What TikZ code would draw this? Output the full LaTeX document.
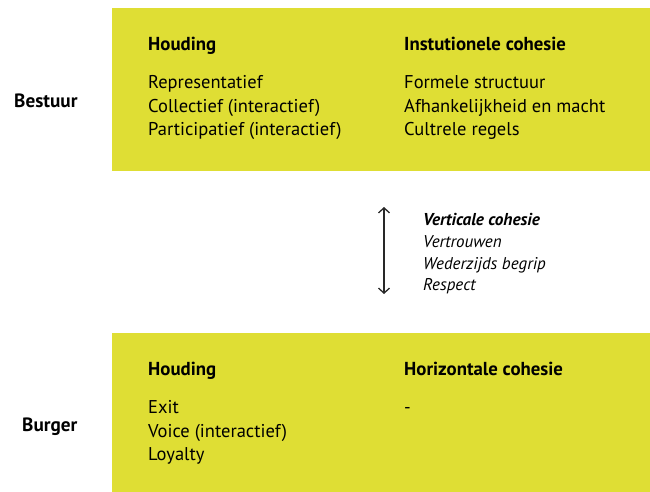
\documentclass[tikz,border=0pt]{standalone}
\usepackage{fontspec}
\setmainfont{PT Sans}
\usetikzlibrary{arrows.meta}
\definecolor{panel}{RGB}{223,222,52}
\definecolor{arrowgray}{RGB}{40,40,40}
\tikzset{
  panelbox/.style={fill=panel, draw=none},
  txt/.style={anchor=base west, inner sep=0pt, font=\fontsize{18.5}{21}\selectfont},
  head/.style={txt, font=\fontsize{18.8}{21}\selectfont\bfseries},
  side/.style={txt, font=\fontsize{19.2}{21}\selectfont\bfseries},
  note/.style={txt, font=\fontsize{17}{20}\selectfont\itshape},
  notehead/.style={txt, font=\fontsize{17.2}{20}\selectfont\bfseries\itshape},
  twoway/.style={{Straight Barb[length=5pt,width=11pt]}-{Straight Barb[length=5pt,width=11pt]}, line width=1.3pt, draw=arrowgray}
}
\begin{document}
\begin{tikzpicture}[x=1pt,y=-1pt]
  \useasboundingbox (0,0) rectangle (650,492);
  % Panels
  \path[panelbox] (111.5,8.5) rectangle (650,171);
  \path[panelbox] (111.5,333) rectangle (650,492);
  % Row labels
  \node[side] (bestuur) at (14,107.5) {Bestuur};
  \node[side] (burger) at (22,431.5) {Burger};
  % Top panel
  \node[head] (h1) at (148,51) {Houding};
  \node[txt] (r1) at (148,88.5) {Representatief};
  \node[txt] (r2) at (148,112.5) {Collectief (interactief)};
  \node[txt] (r3) at (148,135.5) {Participatief (interactief)};
  \node[head] (h2) at (404,51) {Instutionele cohesie};
  \node[txt] (i1) at (404,88.5) {Formele structuur};
  \node[txt] (i2) at (404,112.5) {Afhankelijkheid en macht};
  \node[txt] (i3) at (404,135.5) {Cultrele regels};
  % Vertical cohesion
  \coordinate (up) at (384,207);
  \coordinate (down) at (384,294);
  \draw[twoway] (up) -- (down);
  \node[notehead] (v0) at (423,225) {Verticale cohesie};
  \node[note] (v1) at (423,247) {Vertrouwen};
  \node[note] (v2) at (423,269) {Wederzijds begrip};
  \node[note] (v3) at (423,290) {Respect};
  % Bottom panel
  \node[head] (h3) at (148,375) {Houding};
  \node[txt] (b1) at (148,413) {Exit};
  \node[txt] (b2) at (148,437) {Voice (interactief)};
  \node[txt] (b3) at (148,460) {Loyalty};
  \node[head] (h4) at (404,375) {Horizontale cohesie};
  \node[txt] (c1) at (404,413) {-};
\end{tikzpicture}
\end{document}
